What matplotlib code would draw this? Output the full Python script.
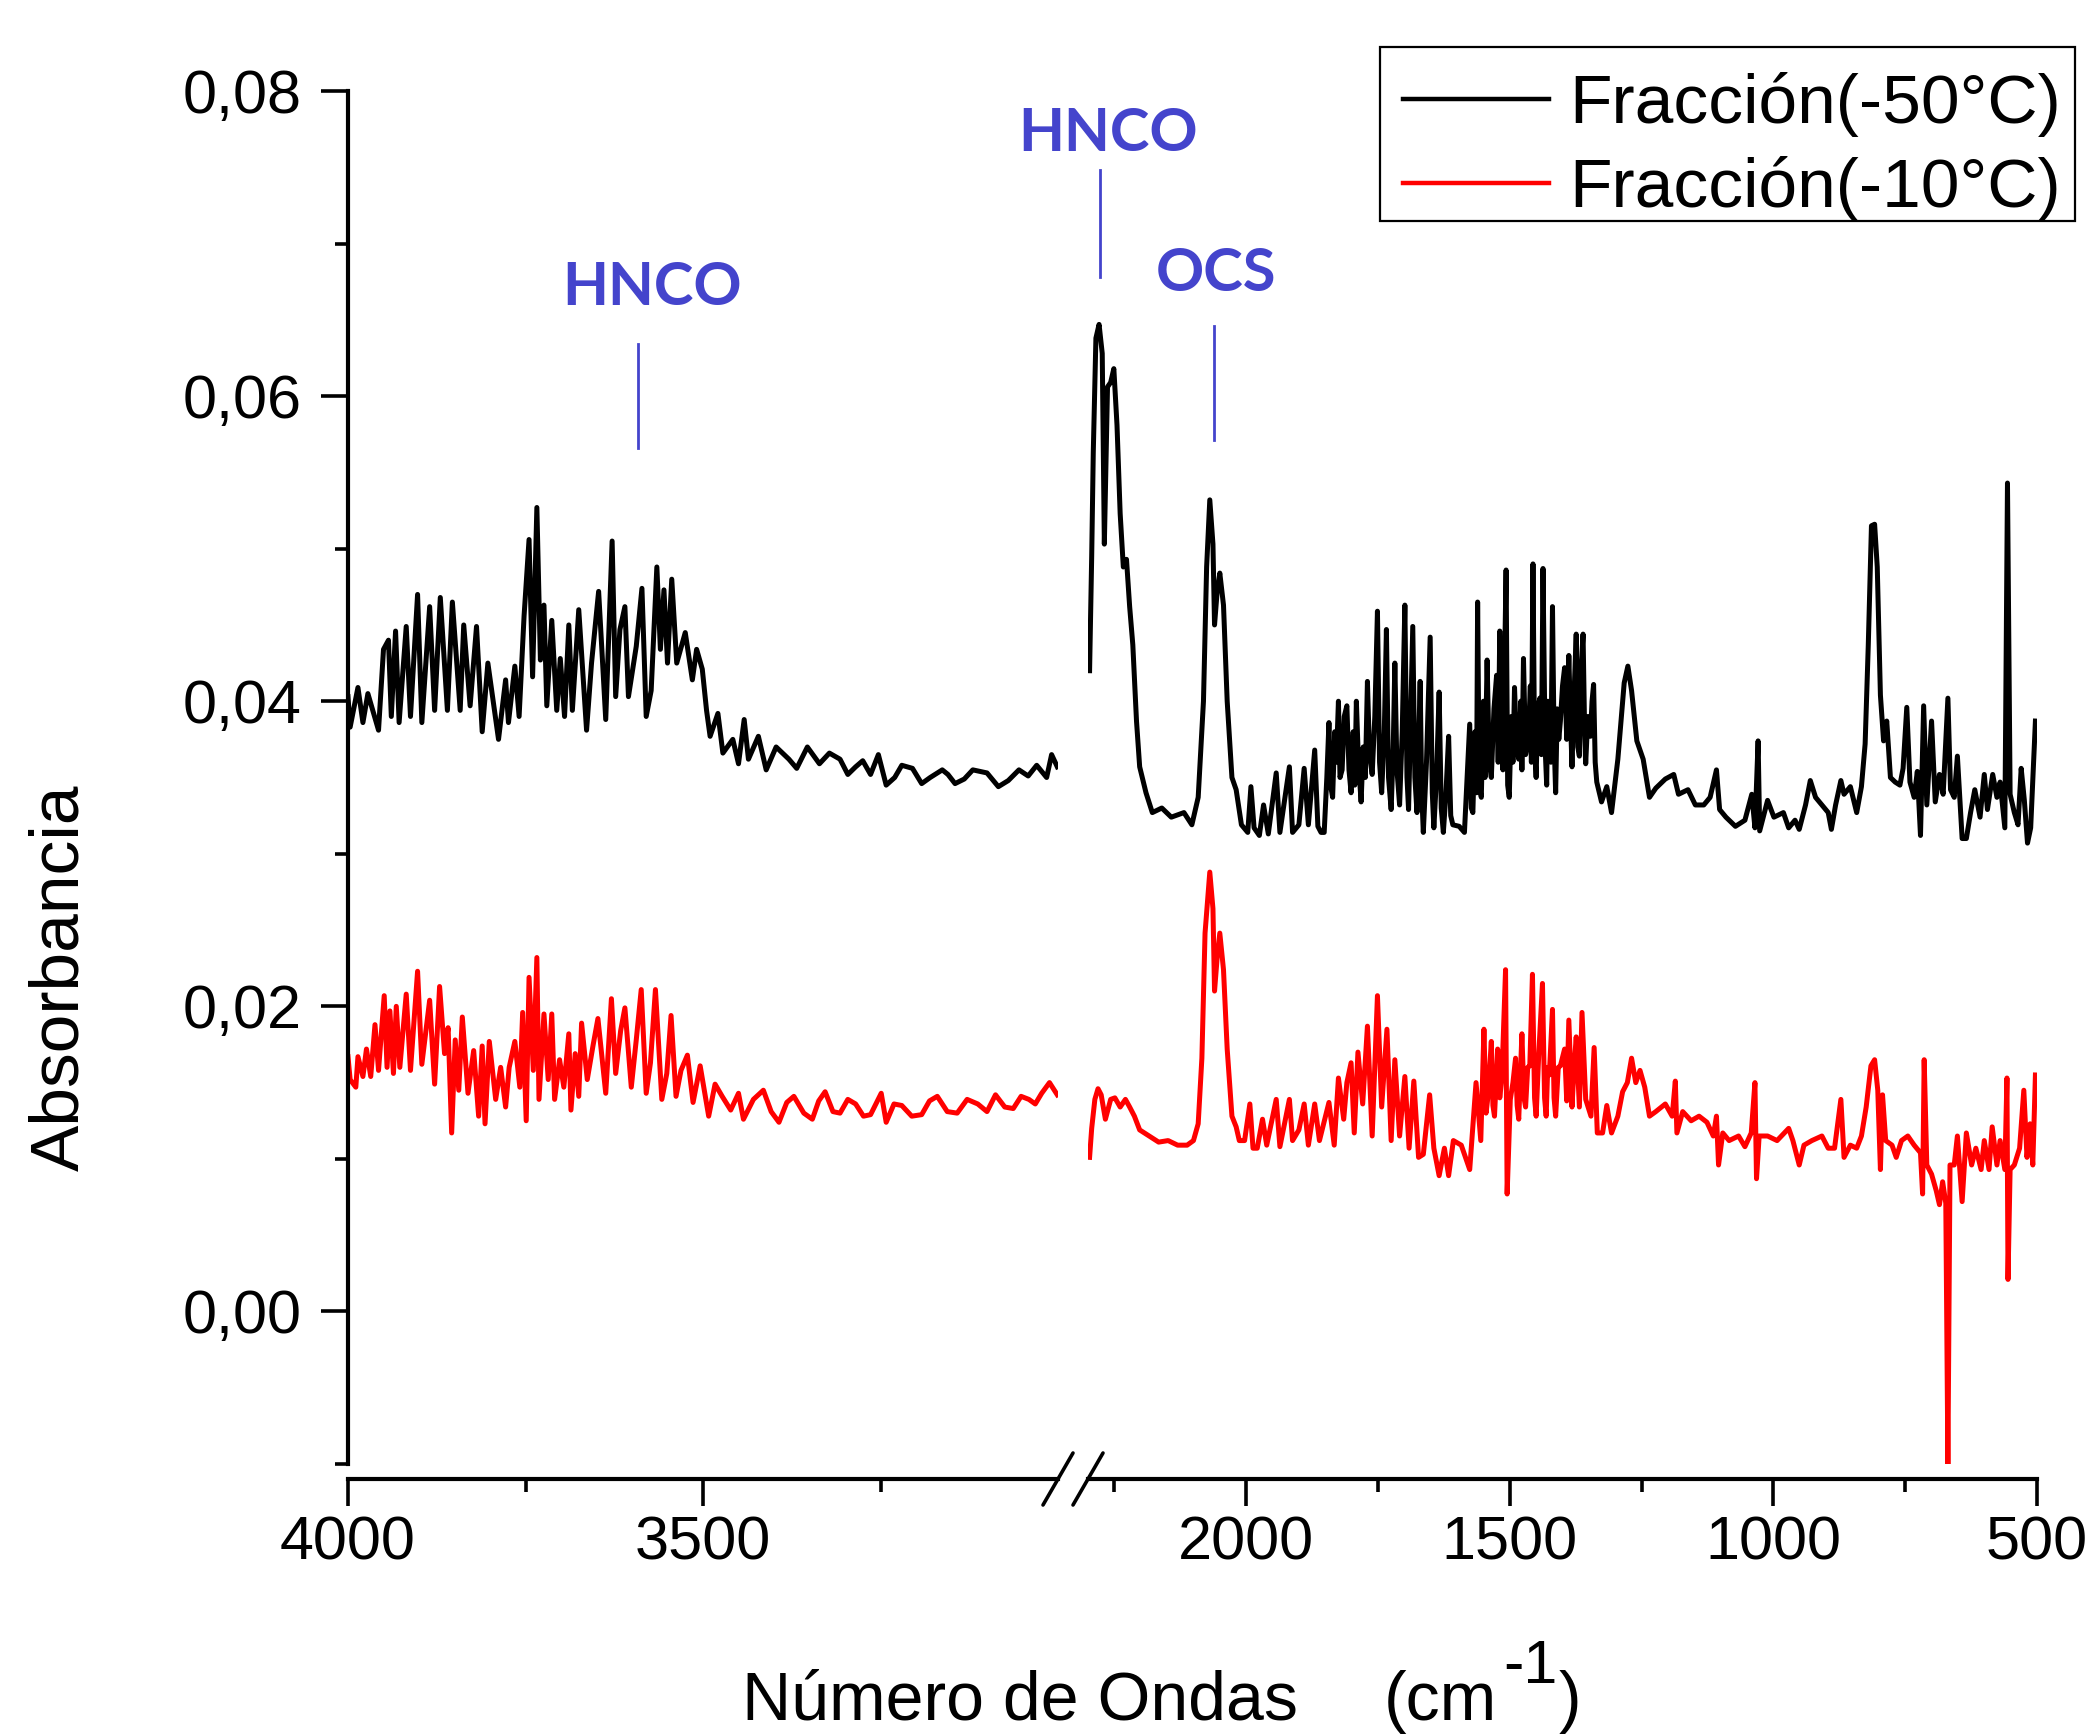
import matplotlib
matplotlib.use('Agg')
from matplotlib import pyplot as plt
from matplotlib.lines import Line2D
from matplotlib.patches import Rectangle
from matplotlib.ticker import MultipleLocator, FuncFormatter

plt.rcParams['font.family'] = ['Liberation Sans', 'DejaVu Sans']

# espectro Fracción(-50°C), tramo 4000-3000 cm-1  (número de onda, absorbancia)
negro_alto = [
    (4000, 0.0403), (3997, 0.0383), (3986, 0.0409), (3979, 0.0386), (3972, 0.0405), (3957, 0.0381),
    (3950, 0.0434), (3943, 0.0440), (3939, 0.0390), (3933, 0.0446), (3928, 0.0386), (3918, 0.0449),
    (3912, 0.0390), (3902, 0.0470), (3896, 0.0386), (3885, 0.0462), (3878, 0.0394), (3870, 0.0468),
    (3860, 0.0394), (3853, 0.0465), (3842, 0.0394), (3837, 0.0450), (3828, 0.0397), (3819, 0.0449),
    (3811, 0.0380), (3803, 0.0425), (3788, 0.0375), (3778, 0.0414), (3774, 0.0386), (3765, 0.0423),
    (3759, 0.0390), (3752, 0.0456), (3745, 0.0506), (3740, 0.0416), (3734, 0.0527), (3729, 0.0427),
    (3724, 0.0463), (3720, 0.0397), (3713, 0.0453), (3706, 0.0394), (3701, 0.0428), (3695, 0.0390),
    (3689, 0.0450), (3684, 0.0394), (3675, 0.0460), (3664, 0.0381), (3657, 0.0425), (3647, 0.0472),
    (3637, 0.0388), (3628, 0.0505), (3623, 0.0403), (3617, 0.0447), (3610, 0.0462), (3605, 0.0403),
    (3594, 0.0436), (3586, 0.0474), (3580, 0.0390), (3573, 0.0407), (3565, 0.0488), (3560, 0.0434),
    (3555, 0.0473), (3550, 0.0425), (3544, 0.0480), (3537, 0.0425), (3525, 0.0445), (3515, 0.0414),
    (3509, 0.0434), (3501, 0.0421), (3495, 0.0394), (3490, 0.0377), (3479, 0.0392), (3472, 0.0366),
    (3458, 0.0375), (3450, 0.0359), (3442, 0.0388), (3436, 0.0362), (3422, 0.0377), (3411, 0.0355),
    (3397, 0.0370), (3379, 0.0362), (3368, 0.0356), (3353, 0.0370), (3336, 0.0359), (3322, 0.0366),
    (3307, 0.0362), (3296, 0.0352), (3285, 0.0357), (3275, 0.0361), (3264, 0.0352), (3253, 0.0365),
    (3242, 0.0345), (3230, 0.0350), (3220, 0.0358), (3205, 0.0356), (3192, 0.0346), (3180, 0.0350),
    (3163, 0.0355), (3155, 0.0352), (3145, 0.0346), (3132, 0.0349), (3120, 0.0355), (3100, 0.0353),
    (3084, 0.0344), (3070, 0.0348), (3055, 0.0355), (3042, 0.0351), (3030, 0.0358), (3016, 0.0350),
    (3009, 0.0365), (3001, 0.0357),
]

# espectro Fracción(-50°C), tramo 2300-500 cm-1
negro_bajo = [
    (2297, 0.0420), (2293, 0.0495), (2290, 0.0563), (2285, 0.0638), (2279, 0.0647), (2273, 0.0628),
    (2269, 0.0503), (2263, 0.0606), (2257, 0.0609), (2251, 0.0618), (2245, 0.0581), (2239, 0.0523),
    (2233, 0.0488), (2227, 0.0493), (2221, 0.0462), (2215, 0.0437), (2208, 0.0387), (2202, 0.0357),
    (2190, 0.0340), (2178, 0.0327), (2160, 0.0330), (2142, 0.0324), (2118, 0.0327), (2103, 0.0319),
    (2091, 0.0337), (2081, 0.0400), (2075, 0.0488), (2069, 0.0532), (2063, 0.0503), (2060, 0.0450),
    (2055, 0.0472), (2050, 0.0484), (2043, 0.0463), (2036, 0.0400), (2027, 0.0350), (2019, 0.0342),
    (2009, 0.0319), (1997, 0.0314), (1991, 0.0344), (1985, 0.0317), (1975, 0.0312), (1967, 0.0332),
    (1958, 0.0313), (1943, 0.0353), (1936, 0.0314), (1918, 0.0357), (1912, 0.0314), (1900, 0.0319),
    (1890, 0.0356), (1882, 0.0319), (1870, 0.0368), (1864, 0.0318), (1858, 0.0314),
    (1852, 0.0314), (1847, 0.0350), (1843, 0.0386), (1840, 0.0345), (1836, 0.0337), (1832, 0.0380),
    (1829, 0.0360), (1825, 0.0400), (1822, 0.0350), (1818, 0.0355), (1814, 0.0390), (1809, 0.0397),
    (1805, 0.0355), (1801, 0.0340), (1797, 0.0380), (1794, 0.0345), (1791, 0.0400), (1787, 0.0360),
    (1782, 0.0334), (1778, 0.0370), (1774, 0.0350), (1770, 0.0413), (1766, 0.0365), (1761, 0.0352),
    (1756, 0.0390), (1751, 0.0459), (1747, 0.0360), (1743, 0.0340), (1738, 0.0380), (1734, 0.0447),
    (1730, 0.0350), (1725, 0.0329), (1721, 0.0370), (1718, 0.0425), (1714, 0.0355), (1709, 0.0332),
    (1704, 0.0380), (1699, 0.0463), (1695, 0.0350), (1692, 0.0329), (1688, 0.0390), (1684, 0.0449),
    (1680, 0.0350), (1676, 0.0327), (1673, 0.0370), (1670, 0.0413), (1667, 0.0340), (1664, 0.0314),
    (1658, 0.0360), (1651, 0.0442), (1647, 0.0340), (1644, 0.0317), (1639, 0.0350), (1634, 0.0406),
    (1630, 0.0330), (1626, 0.0314), (1621, 0.0340), (1616, 0.0377), (1612, 0.0325), (1608, 0.0319),
    (1596, 0.0318), (1586, 0.0314),
    (1576, 0.0385), (1573, 0.0330), (1570, 0.0327), (1566, 0.0380), (1563, 0.0340), (1561, 0.0465),
    (1558, 0.0345), (1554, 0.0337), (1550, 0.0400), (1547, 0.0350), (1543, 0.0427), (1539, 0.0360),
    (1535, 0.0350), (1530, 0.0395), (1525, 0.0417), (1522, 0.0360), (1519, 0.0446), (1516, 0.0370),
    (1513, 0.0355), (1510, 0.0420), (1507, 0.0486), (1504, 0.0345), (1501, 0.0337), (1497, 0.0390),
    (1494, 0.0360), (1491, 0.0409), (1487, 0.0370), (1483, 0.0362), (1479, 0.0400), (1477, 0.0355),
    (1474, 0.0428), (1470, 0.0365), (1465, 0.0374), (1461, 0.0410), (1459, 0.0360), (1456, 0.0490),
    (1453, 0.0370), (1450, 0.0350), (1447, 0.0395), (1443, 0.0402), (1440, 0.0365), (1437, 0.0487),
    (1433, 0.0370), (1430, 0.0345), (1428, 0.0400), (1425, 0.0387), (1422, 0.0360), (1419, 0.0462),
    (1416, 0.0375), (1413, 0.0340), (1410, 0.0395), (1407, 0.0375), (1404, 0.0387), (1400, 0.0410),
    (1396, 0.0422), (1392, 0.0375), (1388, 0.0430), (1385, 0.0390), (1382, 0.0357), (1378, 0.0405),
    (1374, 0.0444), (1371, 0.0370), (1368, 0.0364), (1365, 0.0420), (1361, 0.0444), (1358, 0.0380),
    (1356, 0.0359), (1352, 0.0390), (1347, 0.0377), (1344, 0.0400), (1341, 0.0411), (1338, 0.0360),
    (1335, 0.0347),
    (1326, 0.0334), (1316, 0.0344), (1307, 0.0327), (1295, 0.0362), (1283, 0.0412), (1276, 0.0423),
    (1269, 0.0407), (1259, 0.0374), (1247, 0.0362), (1235, 0.0337), (1223, 0.0343), (1205, 0.0349),
    (1189, 0.0352), (1180, 0.0339), (1162, 0.0342), (1148, 0.0332), (1132, 0.0332), (1120, 0.0337),
    (1108, 0.0355), (1102, 0.0329), (1090, 0.0324), (1072, 0.0318), (1054, 0.0322), (1041, 0.0339),
    (1035, 0.0317), (1029, 0.0374), (1026, 0.0315), (1011, 0.0335), (999, 0.0324), (981, 0.0327),
    (971, 0.0317), (959, 0.0322), (951, 0.0316), (939, 0.0332), (930, 0.0348), (920, 0.0337),
    (908, 0.0332), (896, 0.0327), (890, 0.0316), (882, 0.0332), (872, 0.0348), (866, 0.0339),
    (854, 0.0344), (842, 0.0327), (833, 0.0344), (826, 0.0372), (820, 0.0437), (814, 0.0515),
    (808, 0.0516), (803, 0.0488), (797, 0.0404), (791, 0.0374), (785, 0.0387), (778, 0.0350),
    (769, 0.0347), (760, 0.0345), (754, 0.0356), (747, 0.0396), (741, 0.0347), (733, 0.0337),
    (727, 0.0354), (721, 0.0312), (715, 0.0397), (709, 0.0332), (700, 0.0387), (693, 0.0334),
    (685, 0.0352), (678, 0.0339), (669, 0.0402), (664, 0.0342), (657, 0.0337), (651, 0.0364),
    (642, 0.0310), (634, 0.0310), (626, 0.0327), (618, 0.0342), (608, 0.0324), (600, 0.0352),
    (594, 0.0329), (584, 0.0352), (576, 0.0337), (570, 0.0347), (561, 0.0317), (556, 0.0543),
    (551, 0.0339), (543, 0.0327), (536, 0.0319), (530, 0.0356), (524, 0.0335), (518, 0.0307),
    (512, 0.0317), (503, 0.0387),
]

# espectro Fracción(-10°C), tramo 4000-3000 cm-1
rojo_alto = [
    (4000, 0.0167), (3997, 0.0152), (3989, 0.0147), (3986, 0.0167), (3979, 0.0154), (3974, 0.0172),
    (3968, 0.0154), (3962, 0.0188), (3957, 0.0158), (3949, 0.0207), (3945, 0.0160), (3941, 0.0197),
    (3936, 0.0156), (3932, 0.0200), (3927, 0.0160), (3918, 0.0208), (3912, 0.0158), (3902, 0.0223),
    (3896, 0.0162), (3885, 0.0204), (3878, 0.0149), (3871, 0.0213), (3864, 0.0169), (3859, 0.0186),
    (3854, 0.0117), (3849, 0.0178), (3844, 0.0145), (3839, 0.0193), (3831, 0.0143), (3823, 0.0171),
    (3816, 0.0128), (3811, 0.0174), (3807, 0.0123), (3801, 0.0177), (3792, 0.0139), (3785, 0.0160),
    (3778, 0.0134), (3773, 0.0160), (3765, 0.0177), (3758, 0.0147), (3754, 0.0196), (3749, 0.0125),
    (3745, 0.0219), (3739, 0.0158), (3734, 0.0232), (3731, 0.0139), (3724, 0.0195), (3718, 0.0152),
    (3713, 0.0195), (3709, 0.0139), (3702, 0.0165), (3696, 0.0147), (3689, 0.0182), (3686, 0.0132),
    (3680, 0.0169), (3675, 0.0141), (3671, 0.0189), (3663, 0.0152), (3655, 0.0174), (3648, 0.0192),
    (3637, 0.0143), (3629, 0.0205), (3623, 0.0156), (3616, 0.0184), (3610, 0.0199), (3601, 0.0147),
    (3594, 0.0178), (3587, 0.0211), (3580, 0.0143), (3574, 0.0163), (3567, 0.0211), (3558, 0.0139),
    (3551, 0.0156), (3545, 0.0194), (3538, 0.0141), (3531, 0.0158), (3522, 0.0168), (3514, 0.0137),
    (3504, 0.0161), (3492, 0.0128), (3483, 0.0149), (3473, 0.0141), (3461, 0.0132), (3450, 0.0143),
    (3443, 0.0126), (3429, 0.0139), (3415, 0.0145), (3404, 0.0131), (3393, 0.0124), (3382, 0.0137),
    (3372, 0.0141), (3358, 0.0130), (3346, 0.0126), (3337, 0.0138), (3328, 0.0144), (3317, 0.0131),
    (3307, 0.0130), (3296, 0.0139), (3285, 0.0136), (3274, 0.0128), (3264, 0.0129), (3249, 0.0143),
    (3242, 0.0124), (3231, 0.0136), (3220, 0.0135), (3206, 0.0128), (3192, 0.0129), (3181, 0.0138),
    (3170, 0.0141), (3156, 0.0131), (3142, 0.0130), (3128, 0.0139), (3113, 0.0136), (3100, 0.0131),
    (3088, 0.0142), (3075, 0.0134), (3063, 0.0133), (3052, 0.0141), (3041, 0.0139), (3032, 0.0136),
    (3023, 0.0143), (3012, 0.0150), (3001, 0.0142),
]

# espectro Fracción(-10°C), tramo 2300-500 cm-1
rojo_bajo = [
    (2297, 0.0101), (2293, 0.0120), (2287, 0.0139), (2281, 0.0146), (2275, 0.0142), (2267, 0.0126),
    (2257, 0.0139), (2249, 0.0140), (2239, 0.0134), (2229, 0.0139), (2221, 0.0134), (2212, 0.0128),
    (2202, 0.0119), (2184, 0.0115), (2166, 0.0111), (2148, 0.0112), (2130, 0.0109), (2112, 0.0109),
    (2100, 0.0112), (2091, 0.0123), (2084, 0.0166), (2078, 0.0248), (2069, 0.0288), (2063, 0.0264),
    (2060, 0.0210), (2055, 0.0232), (2050, 0.0248), (2043, 0.0224), (2036, 0.0172), (2027, 0.0128),
    (2019, 0.0121), (2013, 0.0112), (2003, 0.0112), (1993, 0.0136), (1987, 0.0107), (1979, 0.0107),
    (1969, 0.0126), (1961, 0.0109), (1943, 0.0139), (1936, 0.0108), (1918, 0.0139), (1912, 0.0112),
    (1900, 0.0119), (1890, 0.0136), (1882, 0.0109), (1870, 0.0136), (1861, 0.0112), (1843, 0.0137),
    (1833, 0.0109), (1825, 0.0153), (1815, 0.0126), (1809, 0.0150), (1801, 0.0163), (1795, 0.0117),
    (1788, 0.0170), (1779, 0.0136), (1770, 0.0187), (1761, 0.0115), (1751, 0.0207), (1743, 0.0134),
    (1733, 0.0185), (1725, 0.0112), (1718, 0.0165), (1709, 0.0115), (1699, 0.0154), (1691, 0.0107),
    (1682, 0.0151), (1673, 0.0101), (1664, 0.0103), (1652, 0.0142), (1644, 0.0107), (1634, 0.0089),
    (1624, 0.0107), (1616, 0.0089), (1607, 0.0112), (1592, 0.0109), (1576, 0.0093), (1564, 0.0150),
    (1555, 0.0112), (1549, 0.0185), (1545, 0.0130), (1542, 0.0139), (1538, 0.0160), (1535, 0.0177),
    (1532, 0.0135), (1529, 0.0128), (1526, 0.0150), (1523, 0.0172), (1519, 0.0140), (1515, 0.0153),
    (1508, 0.0224), (1505, 0.0077), (1499, 0.0139), (1494, 0.0150), (1489, 0.0166), (1486, 0.0135),
    (1483, 0.0126), (1477, 0.0182), (1473, 0.0140), (1470, 0.0134), (1466, 0.0160), (1462, 0.0161),
    (1457, 0.0221), (1453, 0.0140), (1450, 0.0128), (1445, 0.0169), (1438, 0.0215), (1434, 0.0140),
    (1431, 0.0128), (1428, 0.0160), (1425, 0.0155), (1419, 0.0198), (1416, 0.0140), (1413, 0.0128),
    (1408, 0.0160), (1404, 0.0161), (1396, 0.0172), (1392, 0.0138), (1388, 0.0191), (1382, 0.0134),
    (1378, 0.0160), (1374, 0.0180), (1368, 0.0134), (1363, 0.0196), (1356, 0.0139), (1346, 0.0128),
    (1340, 0.0173), (1334, 0.0117), (1324, 0.0117), (1316, 0.0135), (1307, 0.0117), (1295, 0.0128),
    (1286, 0.0144), (1277, 0.0150), (1269, 0.0166), (1261, 0.0150), (1253, 0.0158), (1244, 0.0147),
    (1235, 0.0128), (1223, 0.0131), (1205, 0.0136), (1192, 0.0128), (1186, 0.0151), (1183, 0.0117),
    (1172, 0.0131), (1156, 0.0125), (1141, 0.0128), (1126, 0.0124), (1114, 0.0115), (1108, 0.0128),
    (1104, 0.0096), (1096, 0.0117), (1084, 0.0112), (1066, 0.0115), (1054, 0.0108), (1042, 0.0117),
    (1035, 0.0150), (1032, 0.0087), (1027, 0.0115), (1011, 0.0115), (993, 0.0112), (971, 0.0120),
    (963, 0.0112), (951, 0.0096), (942, 0.0109), (927, 0.0112), (908, 0.0115), (896, 0.0107),
    (884, 0.0107), (872, 0.0139), (866, 0.0101), (854, 0.0109), (842, 0.0107), (833, 0.0115),
    (824, 0.0134), (815, 0.0161), (808, 0.0165), (802, 0.0145), (797, 0.0093), (793, 0.0142),
    (787, 0.0112), (775, 0.0109), (767, 0.0101), (757, 0.0112), (745, 0.0115), (733, 0.0109),
    (721, 0.0104), (717, 0.0077), (714, 0.0165), (709, 0.0096), (700, 0.0090), (691, 0.0079),
    (685, 0.0070), (679, 0.0085), (673, 0.0071), (669, -0.0100), (665, 0.0096), (657, 0.0096),
    (651, 0.0115), (642, 0.0072), (634, 0.0117), (624, 0.0096), (616, 0.0107), (606, 0.0093),
    (600, 0.0112), (591, 0.0093), (585, 0.0121), (576, 0.0096), (570, 0.0112), (561, 0.0093),
    (557, 0.0153), (555, 0.0021), (551, 0.0093), (543, 0.0096), (533, 0.0107), (525, 0.0145),
    (519, 0.0101), (513, 0.0123), (508, 0.0096), (503, 0.0155),
]

etiquetas = ['Fracción(-50°C)', 'Fracción(-10°C)']
colores = ['black', '#ff0000']

# asignaciones de bandas
bandas = ['HNCO', 'HNCO', 'OCS']
bandas_tramo = [0, 1, 1]
bandas_wn = [3592, 2277, 2061]
bandas_texto_wn = [3572, 2262, 2057]
bandas_texto_y = [0.0671, 0.0772, 0.0680]
bandas_linea_ini = [0.0566, 0.0678, 0.0571]
bandas_linea_fin = [0.0634, 0.0748, 0.0646]
azul = '#4444cc'

W, H = 2096, 1734
fig = plt.figure(figsize=(W / 100, H / 100), dpi=100)
ax_l = fig.add_axes([348 / W, 270 / H, 710 / W, 1373 / H])
ax_r = fig.add_axes([1088 / W, 270 / H, 949 / W, 1373 / H])

lw = 3.6
for datos, color, ax in [(negro_alto, colores[0], ax_l), (rojo_alto, colores[1], ax_l)]:
    x, y = zip(*datos)
    ax.plot(x, y, color=color, lw=lw)
lineas = []
for datos, color, nombre in [(negro_bajo, colores[0], etiquetas[0]), (rojo_bajo, colores[1], etiquetas[1])]:
    x, y = zip(*datos)
    ln, = ax_r.plot(x, y, color=color, lw=lw, label=nombre)
    lineas.append(ln)

ax_l.set_xlim(4000, 3000)
ax_r.set_xlim(2300, 500)
for ax in (ax_l, ax_r):
    ax.set_ylim(-0.01, 0.08)
    ax.spines['top'].set_visible(False)
    ax.spines['right'].set_visible(False)
    ax.spines['bottom'].set_position(('outward', 10.8))
    ax.spines['bottom'].set_linewidth(3.0)
    ax.spines['left'].set_linewidth(3.0)
    ax.tick_params(which='major', direction='out', length=19.4, width=2.6, labelsize=44)
    ax.tick_params(which='minor', direction='out', length=9.7, width=2.6)
    ax.tick_params(axis='x', which='major', pad=7)
    ax.tick_params(axis='y', which='major', pad=14)

ax_r.spines['left'].set_visible(False)
ax_r.tick_params(axis='y', which='both', left=False, labelleft=False)

ax_l.set_xticks([4000, 3500])
ax_l.set_xticks([3750, 3250], minor=True)
ax_r.set_xticks([2000, 1500, 1000, 500])
ax_r.set_xticks([2250, 1750, 1250, 750], minor=True)
ax_l.yaxis.set_major_locator(MultipleLocator(0.02))
ax_l.yaxis.set_minor_locator(MultipleLocator(0.01))
ax_l.yaxis.set_major_formatter(FuncFormatter(lambda v, p: f'{v:.2f}'.replace('.', ',').replace('-0,00', '0,00')))

# marcas de corte del eje x
for xb, xt in [(1043, 1073), (1073, 1103)]:
    fig.add_artist(Line2D([xb / W, xt / W], [1 - 1505 / H, 1 - 1453 / H], transform=fig.transFigure,
                          color='black', lw=2.6, solid_capstyle='round'))

for nombre, tramo, wn, twn, ty, y0, y1 in zip(bandas, bandas_tramo, bandas_wn, bandas_texto_wn,
                                              bandas_texto_y, bandas_linea_ini, bandas_linea_fin):
    ax = ax_l if tramo == 0 else ax_r
    ax.plot([wn, wn], [y0, y1], color=azul, lw=2.0)
    ax.text(twn, ty, nombre, color=azul, fontsize=43, fontweight='bold', family=['Lato', 'DejaVu Sans'],
            ha='center', va='center', clip_on=False)

fig.text(60 / W, 1 - 978 / H, 'Absorbancia', rotation=90, ha='center', va='center', fontsize=50)
t1 = fig.text(742 / W, 1 - 1720 / H, 'Número de Ondas', ha='left', va='baseline', fontsize=49)
t1b = ax_r.annotate('(cm', xy=(1, 0), xycoords=t1, xytext=(62, 0), textcoords='offset points',
                    ha='left', va='bottom', fontsize=49, annotation_clip=False)
t2 = ax_r.annotate('-1', xy=(1, 1), xycoords=(t1b, t1), xytext=(4, 22), textcoords='offset points',
                   ha='left', va='top', fontsize=44, annotation_clip=False)
ax_r.annotate(')', xy=(1, 0), xycoords=(t2, t1), xytext=(1, 0), textcoords='offset points',
              ha='left', va='bottom', fontsize=49, annotation_clip=False)

# leyenda con marco dibujado aparte
leg = fig.legend(handles=lineas, loc='upper right', bbox_to_anchor=(2073 / W, 1 - 60 / H),
                 bbox_transform=fig.transFigure, fontsize=50, frameon=False,
                 handlelength=2.1, handletextpad=0.3, labelspacing=0.28,
                 borderpad=0.17, borderaxespad=0)
for ln in leg.get_lines():
    ln.set_linewidth(3.2)
fig.add_artist(Rectangle((1380 / W, 1 - 221 / H), 695 / W, 174 / H, transform=fig.transFigure,
                         fill=False, edgecolor='black', lw=1.6))

plt.savefig('out.png', dpi=100)
plt.close()
